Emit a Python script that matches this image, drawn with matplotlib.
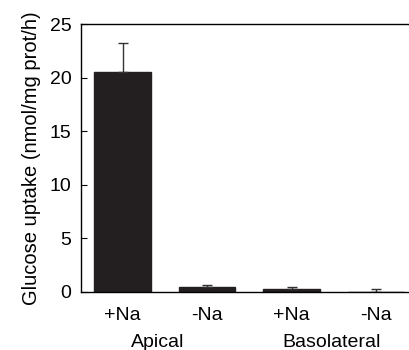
import matplotlib
matplotlib.use("Agg")
import matplotlib.pyplot as plt

categories = ["+Na", "-Na", "+Na", "-Na"]
groups = ["Apical", "Basolateral"]
group_pos = [0.41, 2.47]
values = [20.5, 0.45, 0.3, 0.0]
errors = [2.7, 0.18, 0.2, 0.3]

plt.rcParams['font.family'] = ['Liberation Sans', 'DejaVu Sans']

fig = plt.figure(figsize=(4.09, 3.5), dpi=100)
ax = fig.add_axes([0.198, 0.166, 0.802, 0.765])
x = list(range(len(categories)))
ax.bar(x, values, width=0.67, color="#231f20", edgecolor="#231f20")
ax.errorbar(x, values, yerr=[[0]*len(errors), errors], fmt="none",
            ecolor="#333333", elinewidth=1, capsize=3.4, capthick=1)
ax.set_xlim(-0.493, 3.39)
ax.set_ylim(0, 25)
ax.set_yticks([0, 5, 10, 15, 20, 25])
ax.set_xticks(x)
ax.set_xticklabels(categories, fontsize=14)
ax.tick_params(axis='x', length=0, pad=11)
ax.tick_params(axis='y', direction='in', length=4, labelsize=14, pad=7)
ax.spines['right'].set_visible(False)
for s in ['top', 'left', 'bottom']:
    ax.spines[s].set_linewidth(1)
ax.set_ylabel("Glucose uptake (nmol/mg prot/h)", fontsize=14.5, labelpad=6)
for g, p in zip(groups, group_pos):
    ax.text(p, -0.19, g, transform=ax.get_xaxis_transform(), ha='center',
            va='center', fontsize=14)
fig.savefig("out.png", dpi=100)
